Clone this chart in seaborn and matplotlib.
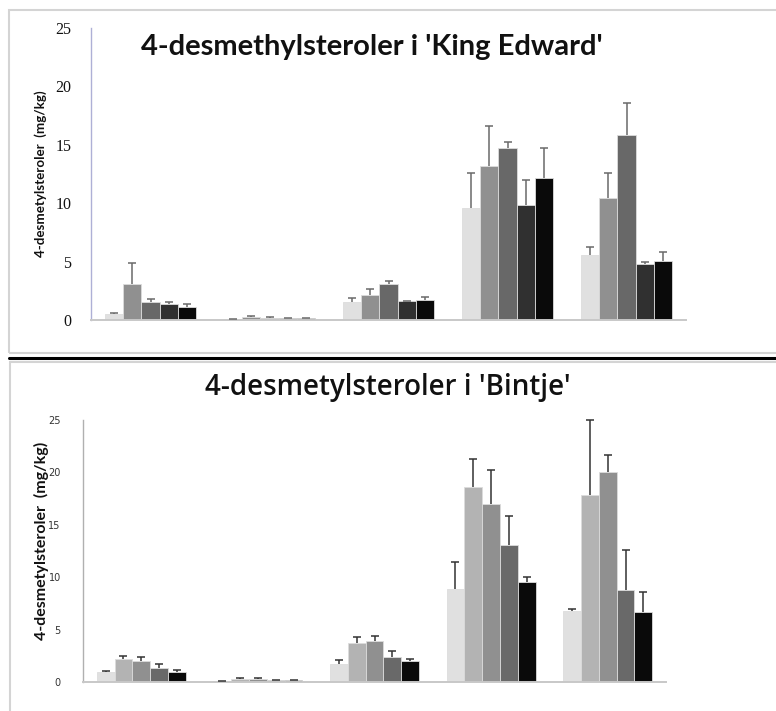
import numpy as np
import pandas as pd
import matplotlib
matplotlib.use("Agg")
import matplotlib.pyplot as plt
import seaborn as sns
from matplotlib.patches import Rectangle
from matplotlib.lines import Line2D

sns.set_theme(style="white")
plt.rcParams['font.family'] = ['Lato', 'DejaVu Sans']

categories = ["G1", "G2", "G3", "G4", "G5"]
series = ["S1", "S2", "S3", "S4", "S5"]

# King Edward: means and error-bar tops, per series (rows) over categories
ke_values = [
    [0.55, 0.05, 1.50, 9.55, 5.55],
    [3.05, 0.25, 2.15, 13.20, 10.45],
    [1.58, 0.20, 3.05, 14.75, 15.80],
    [1.35, 0.15, 1.60, 9.82, 4.82],
    [1.15, 0.13, 1.70, 12.12, 5.02],
]
ke_err_top = [
    [0.58, 0.10, 1.88, 12.55, 6.22],
    [4.85, 0.32, 2.63, 16.65, 12.60],
    [1.78, 0.26, 3.33, 15.26, 18.62],
    [1.55, 0.21, 1.64, 11.98, 4.94],
    [1.36, 0.17, 2.00, 14.70, 5.82],
]
# Bintje
bi_values = [
    [0.92, 0.05, 1.68, 8.88, 6.78],
    [2.19, 0.25, 3.68, 18.58, 17.80],
    [1.97, 0.25, 3.94, 17.02, 20.00],
    [1.33, 0.15, 2.38, 13.10, 8.78],
    [0.95, 0.15, 1.97, 9.52, 6.66],
]
bi_err_top = [
    [1.08, 0.12, 2.06, 11.46, 6.92],
    [2.51, 0.36, 4.33, 21.24, 25.00],
    [2.34, 0.37, 4.42, 20.25, 21.62],
    [1.72, 0.19, 2.98, 15.84, 12.58],
    [1.14, 0.21, 2.22, 10.03, 8.58],
]

ke_colors = ["#e0e0e0", "#909090", "#686868", "#303030", "#0a0a0a"]
bi_colors = ["#e0e0e0", "#b3b3b3", "#909090", "#696969", "#0a0a0a"]

W, H = 776, 711
fig = plt.figure(figsize=(W / 100, H / 100), dpi=100)


def fx(px):
    return px / W


def fy(py):
    return 1 - py / H


# panel frames and separator
fig.patches.append(Rectangle((fx(9), fy(353)), fx(800 - 9), (353 - 10) / H,
                             transform=fig.transFigure, fill=False,
                             edgecolor="#d4d4d4", linewidth=1.5))
fig.patches.append(Rectangle((fx(10), fy(720)), fx(800 - 10), (720 - 362) / H,
                             transform=fig.transFigure, fill=False,
                             edgecolor="#d4d4d4", linewidth=1.5))
fig.lines.append(Line2D([fx(9), 1.0], [fy(358), fy(358)], transform=fig.transFigure,
                        color="black", linewidth=2.2))


def make_panel(rect, values, err_top, colors, ecolor, spine_left, tick_font,
               tick_size, tick_color, pad, label_xy, label_size):
    ax = fig.add_axes(rect)
    rows = []
    for si, s in enumerate(series):
        for ci, c in enumerate(categories):
            rows.append({"cat": c, "series": s, "val": values[si][ci]})
    df = pd.DataFrame(rows)
    sns.barplot(data=df, x="cat", y="val", hue="series", palette=colors,
                order=categories, hue_order=series, width=0.765,
                errorbar=None, legend=False, ax=ax,
                edgecolor="#dcdcdc", linewidth=0.6, saturation=1)
    bar_conts = list(ax.containers)
    for si, cont in enumerate(bar_conts):
        xs = [b.get_x() + b.get_width() / 2 for b in cont]
        hs = [b.get_height() for b in cont]
        ax.vlines(xs, hs, err_top[si], colors=ecolor, linewidth=1.1, zorder=3)
        ax.plot(xs, err_top[si], linestyle="none", marker="_", markersize=6,
                markeredgewidth=1.1, color=ecolor, zorder=3, clip_on=False)
    ax.set_xlim(-0.5, len(categories) - 0.5)
    ax.set_ylim(0, 25)
    ax.set_yticks([0, 5, 10, 15, 20, 25])
    ax.set_xticks([])
    ax.set_xlabel("")
    ax.set_ylabel("4-desmetylsteroler  (mg/kg)", fontsize=label_size,
                  fontweight="bold", color="#111111")
    ax.yaxis.set_label_coords(*label_xy)
    for sp in ["top", "right"]:
        ax.spines[sp].set_visible(False)
    ax.spines["left"].set_color(spine_left)
    ax.spines["left"].set_linewidth(1.0)
    ax.spines["bottom"].set_color("#c8c8c8")
    ax.spines["bottom"].set_linewidth(1.4)
    ax.tick_params(axis="y", direction="out", length=4, width=1,
                   color=spine_left, pad=pad, labelsize=tick_size,
                   labelcolor=tick_color)
    for t in ax.get_yticklabels():
        t.set_fontfamily(tick_font)
    ax.set_facecolor("white")
    return ax


ax1 = make_panel([fx(91), fy(320), (686 - 91) / W, (320 - 28) / H],
                 ke_values, ke_err_top, ke_colors, "#6a6a6a", "#aeb0d6",
                 ["Liberation Serif", "DejaVu Serif"], 11.5, "#111111", 10,
                 (-0.074, 0.5), 9.6)
ax2 = make_panel([fx(83), fy(682), (666 - 83) / W, (682 - 420) / H],
                 bi_values, bi_err_top, bi_colors, "#333333", "#b0b0b0",
                 ["DejaVu Sans"], 7, "#333333", 12,
                 (-0.058, 0.54), 11.5)

fig.text(fx(372), fy(47), "4-desmethylsteroler i 'King Edward'", ha="center",
         va="center", fontsize=21, fontweight="bold", color="#111111")
fig.text(fx(388), fy(387), "4-desmetylsteroler i 'Bintje'", ha="center",
         va="center", fontsize=20, fontweight="semibold", color="#111111",
         family=["Open Sans", "DejaVu Sans"])

fig.savefig("out.png", dpi=100, facecolor="white")
